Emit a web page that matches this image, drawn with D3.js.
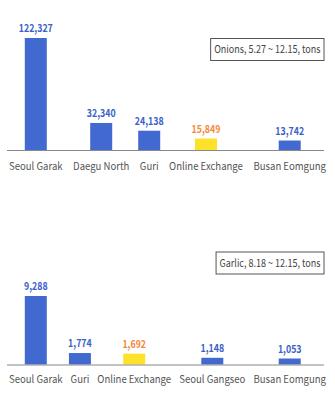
<!DOCTYPE html>
<html>
<head>
<meta charset="utf-8">
<script src="https://cdn.jsdelivr.net/npm/d3@7"></script>
<style>
  html, body { margin: 0; padding: 0; background: #fff; }
  svg { display: block; }
  text { font-family: "Noto Sans CJK KR", "Noto Sans", sans-serif; }
</style>
</head>
<body>
<svg id="chart" width="335" height="417"></svg>
<script>
// ---- data ----
const onionCategories = ["Seoul Garak", "Daegu North", "Guri", "Online Exchange", "Busan Eomgung"];
const onionValues = [122327, 32340, 24138, 15849, 13742];
const onionTitle = "Onions, 5.27 ~ 12.15, tons";

const garlicCategories = ["Seoul Garak", "Guri", "Online Exchange", "Seoul Gangseo", "Busan Eomgung"];
const garlicValues = [9288, 1774, 1692, 1148, 1053];
const garlicTitle = "Garlic, 8.18  ~ 12.15, tons";

const highlightCategory = "Online Exchange";

// ---- style ----
const BLUE = "#4169cf", YELLOW = "#fde12b";
const BLUE_TXT = "#3a62c8", ORANGE_TXT = "#f7893c";
const LABEL_SX = 0.87, VALUE_SX = 0.8, TITLE_SX = 0.82;
const fmt = d3.format(",");

const svg = d3.select("#chart");

function drawChart(cfg) {
  const g = svg.append("g");
  const { categories, values, title, baseline, top, under, axisX0, axisX1, labelX0, labelX1 } = cfg;

  // category labels, laid out by their (condensed) widths
  const labels = g.selectAll("text.cat").data(categories).join("text")
    .attr("class", "cat")
    .attr("font-size", 11)
    .attr("fill", "#555")
    .attr("text-anchor", "middle")
    .text(d => d);
  const widths = [];
  labels.each(function () { widths.push(this.getComputedTextLength() * LABEL_SX); });
  const total = d3.sum(widths);
  const gap = (labelX1 - labelX0 - total) / (categories.length - 1);
  const centers = [];
  let cx = labelX0;
  widths.forEach(w => { centers.push(cx + w / 2); cx += w + gap; });
  labels.attr("transform", (d, i) => `translate(${centers[i]},${baseline + cfg.labelDy}) scale(${LABEL_SX},1)`);

  const y = d3.scaleLinear().domain([0, d3.max(values)]).range([baseline + under, top]);
  const barW = 22;

  g.selectAll("rect.bar").data(values).join("rect")
    .attr("class", "bar")
    .attr("x", (d, i) => centers[i] - barW / 2)
    .attr("width", barW)
    .attr("y", d => y(d))
    .attr("height", d => Math.max(0, baseline - y(d)))
    .attr("fill", (d, i) => categories[i] === highlightCategory ? YELLOW : BLUE);

  g.selectAll("text.val").data(values).join("text")
    .attr("class", "val")
    .attr("transform", (d, i) => `translate(${centers[i]},${y(d) - 6}) scale(${VALUE_SX},1)`)
    .attr("text-anchor", "middle")
    .attr("font-size", 11)
    .attr("font-weight", 600)
    .attr("fill", (d, i) => categories[i] === highlightCategory ? ORANGE_TXT : BLUE_TXT)
    .text(d => fmt(d));

  g.append("line")
    .attr("x1", axisX0).attr("x2", axisX1)
    .attr("y1", baseline + 0.5).attr("y2", baseline + 0.5)
    .attr("stroke", "#888").attr("stroke-width", 1);

  // title box
  const tb = g.append("g");
  const t = tb.append("text")
    .attr("transform", `translate(${cfg.boxX1 - 3.5},${cfg.boxY + 15}) scale(${TITLE_SX},1)`)
    .attr("text-anchor", "end")
    .attr("font-size", 11)
    .attr("fill", "#444")
    .text(title);
  const tw = t.node().getComputedTextLength() * TITLE_SX;
  tb.insert("rect", "text")
    .attr("x", cfg.boxX1 - tw - 7)
    .attr("y", cfg.boxY + 0.5)
    .attr("width", tw + 7)
    .attr("height", 22)
    .attr("fill", "#fff")
    .attr("stroke", "#555")
    .attr("stroke-width", 1);
}

drawChart({
  categories: onionCategories, values: onionValues, title: onionTitle,
  baseline: 150, top: 38, under: 3.5, labelDy: 19.5,
  axisX0: 7, axisX1: 324, labelX0: 9, labelX1: 326,
  boxX1: 324, boxY: 38
});

drawChart({
  categories: garlicCategories, values: garlicValues, title: garlicTitle,
  baseline: 364.5, top: 296, under: 2, labelDy: 18.5,
  axisX0: 7, axisX1: 324, labelX0: 9, labelX1: 326,
  boxX1: 324, boxY: 251.5
});
</script>
</body>
</html>
